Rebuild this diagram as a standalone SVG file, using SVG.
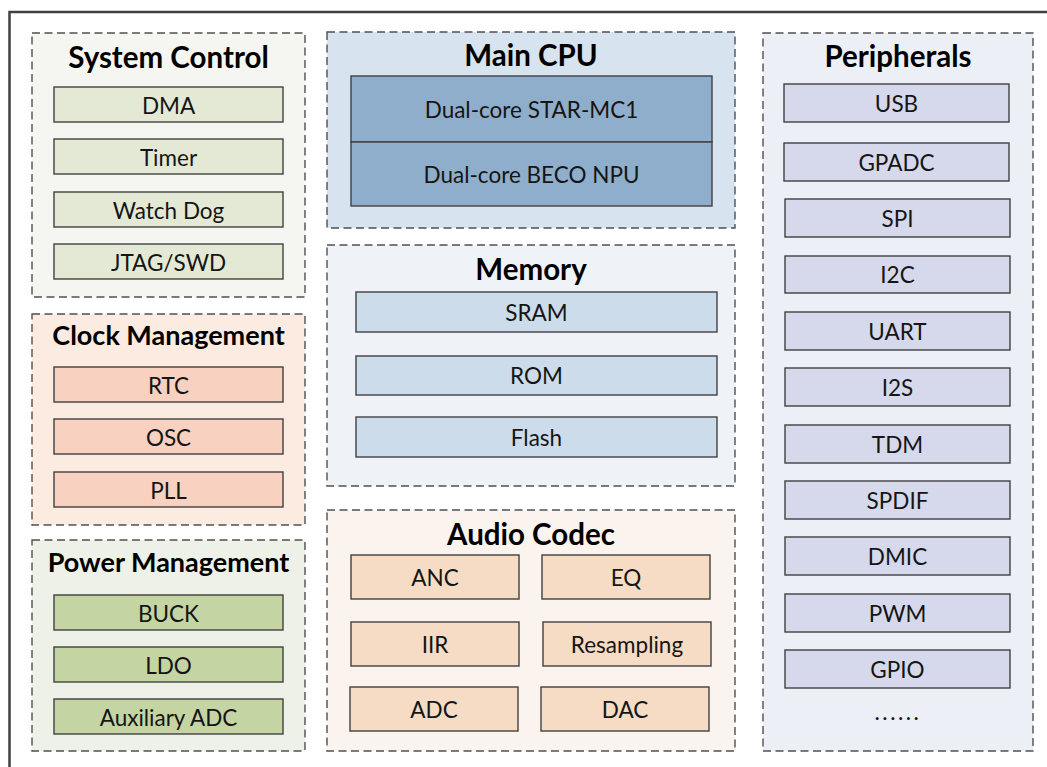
<svg xmlns="http://www.w3.org/2000/svg" width="1047" height="767" viewBox="0 0 1047 767">
<style>
.grp{stroke:#505050;stroke-width:1.4;stroke-dasharray:8 4.5}
.box{stroke:#404040;stroke-width:1.4}
.title{font-family:Lato,"Open Sans","Liberation Sans",sans-serif;font-weight:bold;font-size:29.5px;fill:#000;text-anchor:middle}
.title.narrow{font-size:27px}
.lbl{font-family:Lato,"Open Sans","Liberation Sans",sans-serif;font-size:22.5px;fill:#151515;text-anchor:middle;dominant-baseline:central}
.sc-bg{fill:#F5F6F1}.sc{fill:#E4E9D5}
.cm-bg{fill:#FBEBE0}.cm{fill:#F8D1C1}
.pm-bg{fill:#EEF1E8}.pm{fill:#C5D4A3}
.cpu-bg{fill:#D7E3EE}.cpu{fill:#8FAECB}
.mem-bg{fill:#EFF3F8}.mem{fill:#CDDCEA}
.ac-bg{fill:#FBF4EE}.ac{fill:#F6DCC4}
.pe-bg{fill:#EDEFF7}.pe{fill:#D5D9EB}
</style>
<rect width="1047" height="767" fill="#fff"/>
<path d="M9.5,770 V12 H1050" fill="none" stroke="#404040" stroke-width="2.5"/>

<g id="system-control">
<rect class="grp sc-bg" x="32" y="33" width="273" height="264"/>
<text class="title" x="168.5" y="68">System Control</text>
<g id="dma"><rect class="box sc" x="54" y="87" width="229" height="35"/><text class="lbl" x="168.5" y="105">DMA</text></g>
<g id="timer"><rect class="box sc" x="54" y="139" width="229" height="35"/><text class="lbl" x="168.5" y="157">Timer</text></g>
<g id="watchdog"><rect class="box sc" x="54" y="192" width="229" height="35"/><text class="lbl" x="168.5" y="210">Watch Dog</text></g>
<g id="jtag"><rect class="box sc" x="54" y="244" width="229" height="35"/><text class="lbl" x="168.5" y="262">JTAG/SWD</text></g>
</g>

<g id="clock-management">
<rect class="grp cm-bg" x="32" y="314" width="273" height="211"/>
<text class="title narrow" x="168.5" y="345">Clock Management</text>
<g id="rtc"><rect class="box cm" x="54" y="367" width="229" height="35"/><text class="lbl" x="168.5" y="385">RTC</text></g>
<g id="osc"><rect class="box cm" x="54" y="419" width="229" height="35"/><text class="lbl" x="168.5" y="437">OSC</text></g>
<g id="pll"><rect class="box cm" x="54" y="472" width="229" height="35"/><text class="lbl" x="168.5" y="490">PLL</text></g>
</g>

<g id="power-management">
<rect class="grp pm-bg" x="32" y="540" width="273" height="211"/>
<text class="title narrow" x="168.5" y="572">Power Management</text>
<g id="buck"><rect class="box pm" x="54" y="595" width="229" height="35"/><text class="lbl" x="168.5" y="613">BUCK</text></g>
<g id="ldo"><rect class="box pm" x="54" y="647" width="229" height="35"/><text class="lbl" x="168.5" y="665">LDO</text></g>
<g id="aux-adc"><rect class="box pm" x="54" y="699" width="229" height="35"/><text class="lbl" x="168.5" y="717">Auxiliary ADC</text></g>
</g>

<g id="main-cpu">
<rect class="grp cpu-bg" x="327" y="32" width="408" height="196"/>
<text class="title" x="531" y="66">Main CPU</text>
<g id="star-mc1"><rect class="box cpu" x="351" y="76" width="361" height="66"/><text class="lbl" x="531.5" y="109">Dual-core STAR-MC1</text></g>
<g id="beco-npu"><rect class="box cpu" x="351" y="142" width="361" height="64"/><text class="lbl" x="531.5" y="174">Dual-core BECO NPU</text></g>
</g>

<g id="memory">
<rect class="grp mem-bg" x="327" y="245" width="408" height="241"/>
<text class="title" x="531" y="280">Memory</text>
<g id="sram"><rect class="box mem" x="356" y="292" width="361" height="40"/><text class="lbl" x="536.5" y="312">SRAM</text></g>
<g id="rom"><rect class="box mem" x="356" y="356" width="361" height="39"/><text class="lbl" x="536.5" y="375.5">ROM</text></g>
<g id="flash"><rect class="box mem" x="356" y="417" width="361" height="40"/><text class="lbl" x="536.5" y="437">Flash</text></g>
</g>

<g id="audio-codec">
<rect class="grp ac-bg" x="327" y="510" width="408" height="241"/>
<text class="title" x="531" y="545">Audio Codec</text>
<g id="anc"><rect class="box ac" x="351" y="555" width="168" height="44"/><text class="lbl" x="435" y="577">ANC</text></g>
<g id="eq"><rect class="box ac" x="542" y="555" width="168" height="44"/><text class="lbl" x="626" y="577">EQ</text></g>
<g id="iir"><rect class="box ac" x="351" y="622" width="168" height="44"/><text class="lbl" x="435" y="644">IIR</text></g>
<g id="resampling"><rect class="box ac" x="543" y="622" width="168" height="44"/><text class="lbl" x="627" y="644">Resampling</text></g>
<g id="adc"><rect class="box ac" x="350" y="687" width="168" height="44"/><text class="lbl" x="434" y="709">ADC</text></g>
<g id="dac"><rect class="box ac" x="541" y="687" width="168" height="44"/><text class="lbl" x="625" y="709">DAC</text></g>
</g>

<g id="peripherals">
<rect class="grp pe-bg" x="763" y="33" width="270" height="718"/>
<text class="title" x="898" y="67">Peripherals</text>
<g id="usb"><rect class="box pe" x="784" y="84" width="225" height="38"/><text class="lbl" x="896.5" y="103">USB</text></g>
<g id="gpadc"><rect class="box pe" x="784" y="143" width="225" height="38"/><text class="lbl" x="896.5" y="162">GPADC</text></g>
<g id="spi"><rect class="box pe" x="785" y="199" width="225" height="38"/><text class="lbl" x="897.5" y="218">SPI</text></g>
<g id="i2c"><rect class="box pe" x="785" y="256" width="225" height="37"/><text class="lbl" x="897.5" y="274.5">I2C</text></g>
<g id="uart"><rect class="box pe" x="785" y="312" width="225" height="38"/><text class="lbl" x="897.5" y="331">UART</text></g>
<g id="i2s"><rect class="box pe" x="785" y="368" width="225" height="38"/><text class="lbl" x="897.5" y="387">I2S</text></g>
<g id="tdm"><rect class="box pe" x="785" y="425" width="225" height="38"/><text class="lbl" x="897.5" y="444">TDM</text></g>
<g id="spdif"><rect class="box pe" x="785" y="481" width="225" height="38"/><text class="lbl" x="897.5" y="500">SPDIF</text></g>
<g id="dmic"><rect class="box pe" x="785" y="537" width="225" height="38"/><text class="lbl" x="897.5" y="556">DMIC</text></g>
<g id="pwm"><rect class="box pe" x="785" y="594" width="225" height="38"/><text class="lbl" x="897.5" y="613">PWM</text></g>
<g id="gpio"><rect class="box pe" x="785" y="650" width="225" height="38"/><text class="lbl" x="897.5" y="669">GPIO</text></g>
<text class="lbl" x="898" y="711" letter-spacing="2.5">......</text>
</g>
</svg>
